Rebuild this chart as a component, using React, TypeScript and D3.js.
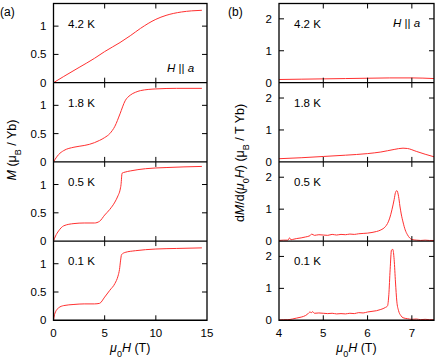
import * as d3 from "d3"

// ---- data ----
const temps = ["4.2 K", "1.8 K", "0.5 K", "0.1 K"]

// magnetization M (μB/Yb) vs μ0H (T)
const mH42 = [0, 1, 2.5, 4, 5, 6.5, 7.5, 8.5, 10, 11, 12.5, 13.5, 14.5]
const mM42 = [0, 0.11, 0.27, 0.43, 0.55, 0.71, 0.83, 0.96, 1.12, 1.19, 1.25, 1.27, 1.28]
const mH18 = [0, 0.5, 1, 2, 3, 3.5, 4.5, 5, 5.5, 6, 6.5, 7, 7.5, 8, 8.5, 10, 12, 14.5]
const mM18 = [0, 0.13, 0.2, 0.26, 0.29, 0.31, 0.38, 0.43, 0.5, 0.63, 0.85, 1.08, 1.18, 1.23, 1.26, 1.29, 1.3, 1.3]
const mH05 = [0, 0.2, 0.5, 1, 2, 3, 4, 4.5, 5, 5.5, 6, 6.3, 6.5, 6.6, 6.7, 7, 7.5, 9, 11, 14.5]
const mM05 = [0, 0.09, 0.18, 0.27, 0.31, 0.32, 0.32, 0.35, 0.46, 0.56, 0.69, 0.8, 0.9, 1.0, 1.2, 1.22, 1.24, 1.28, 1.3, 1.32]
const mH01 = [0, 0.1, 0.2, 0.5, 1, 2, 3, 4, 4.5, 5, 5.5, 6, 6.3, 6.45, 6.55, 6.65, 7, 8, 10, 12, 14.5]
const mM01 = [0, 0.1, 0.15, 0.22, 0.26, 0.28, 0.29, 0.29, 0.3, 0.41, 0.53, 0.65, 0.78, 0.9, 1.05, 1.16, 1.2, 1.23, 1.26, 1.27, 1.28]

// dM/d(μ0H) (μB/T Yb) vs μ0H (T)
const dH42 = [4, 4.5, 5, 5.5, 6, 6.5, 7, 7.5]
const dD42 = [0.1, 0.11, 0.12, 0.13, 0.14, 0.15, 0.15, 0.13]
const dH18 = [4, 4.5, 5, 5.5, 6, 6.3, 6.6, 6.8, 6.9, 7.1, 7.3, 7.5]
const dD18 = [0.1, 0.13, 0.17, 0.21, 0.26, 0.31, 0.39, 0.43, 0.42, 0.33, 0.24, 0.16]
const dH05 = [4, 4.1, 4.2, 4.24, 4.27, 4.3, 4.4, 4.5, 4.6, 4.7, 4.74, 4.8, 4.9, 5, 5.1, 5.2, 5.3, 5.4, 5.5, 5.6, 5.7, 5.8, 5.9, 6, 6.1, 6.2, 6.3, 6.4, 6.45, 6.5, 6.55, 6.6, 6.63, 6.66, 6.7, 6.73, 6.76, 6.8, 6.85, 6.9, 6.95, 7, 7.1, 7.2, 7.3, 7.4, 7.5]
const dD05 = [0.02, 0.03, 0.03, 0.1, 0.04, 0.05, 0.08, 0.1, 0.13, 0.17, 0.22, 0.18, 0.2, 0.19, 0.18, 0.21, 0.19, 0.21, 0.2, 0.22, 0.21, 0.23, 0.24, 0.25, 0.27, 0.3, 0.35, 0.45, 0.55, 0.72, 0.98, 1.3, 1.52, 1.58, 1.4, 1.1, 0.85, 0.6, 0.35, 0.2, 0.1, 0.05, 0.03, 0.02, 0.03, 0.02, 0.02]
const dH01 = [4, 4.1, 4.2, 4.3, 4.4, 4.5, 4.6, 4.65, 4.7, 4.73, 4.76, 4.8, 4.9, 5, 5.1, 5.2, 5.3, 5.4, 5.5, 5.6, 5.7, 5.8, 5.9, 6, 6.1, 6.2, 6.3, 6.4, 6.45, 6.48, 6.51, 6.54, 6.57, 6.6, 6.63, 6.66, 6.7, 6.75, 6.8, 6.9, 7, 7.1, 7.2, 7.3, 7.4, 7.5]
const dD01 = [0.01, 0.02, 0.02, 0.04, 0.07, 0.1, 0.15, 0.2, 0.26, 0.24, 0.27, 0.22, 0.23, 0.22, 0.21, 0.22, 0.2, 0.21, 0.2, 0.22, 0.21, 0.24, 0.23, 0.26, 0.28, 0.3, 0.34, 0.4, 0.45, 0.8, 1.6, 2.2, 2.22, 1.9, 1.2, 0.6, 0.3, 0.15, 0.08, 0.05, 0.03, 0.04, 0.02, 0.03, 0.02, 0.02]

const mSeries = [[mH42, mM42], [mH18, mM18], [mH05, mM05], [mH01, mM01]]
const dSeries = [[dH42, dD42], [dH18, dD18], [dH05, dD05], [dH01, dD01]]

const mYTicks = [0, 0.5, 1]
const mXTicks = [0, 5, 10, 15]
const dYTicks = [0, 1, 2]
const dXTicks = [4, 5, 6, 7]

// ---- layout ----
const W = 443
const H = 360
const top = 3.5
const panelH = 79.2
const font = "'Liberation Sans', Arial, sans-serif"
const red = "#ff3030"
const tick = 5

const xM = d3.scaleLinear().domain([0, 15]).range([53.5, 207])
const xD = d3.scaleLinear().domain([4, 7.5]).range([279, 434])

function Column({ x, yMax, yTicks, xTicks, series, labelX, tickFmt }: any) {
  const [x0, x1] = x.range()
  const bottom = top + panelH * 4
  return (
    <g>
      {series.map(([hs, vs]: number[][], i: number) => {
        const pTop = top + panelH * i
        const y = d3.scaleLinear().domain([0, yMax]).range([pTop + panelH, pTop])
        const pts: [number, number][] = hs.map((h, k) => [h, vs[k]])
        const line = d3
          .line<[number, number]>()
          .x((d) => x(d[0]))
          .y((d) => y(d[1]))
          .curve(d3.curveMonotoneX)
        return (
          <g key={i}>
            <path d={line(pts) || ""} fill="none" stroke={red} strokeWidth={1} />
            {yTicks.map((t: number) => (
              <g key={t}>
                {t > 0 && (
                  <>
                    <line x1={x0} x2={x0 + tick} y1={y(t)} y2={y(t)} stroke="#000" />
                    <line x1={x1} x2={x1 - tick} y1={y(t)} y2={y(t)} stroke="#000" />
                  </>
                )}
                <text x={x0 - 7} y={y(t) + 4} textAnchor="end" fontSize={11.5}>
                  {tickFmt(t)}
                </text>
              </g>
            ))}
            {xTicks
              .filter((t: number) => t > x.domain()[0] && t < x.domain()[1])
              .map((t: number) => (
                <g key={t}>
                  <line x1={x(t)} x2={x(t)} y1={pTop} y2={pTop + tick} stroke="#000" />
                  <line x1={x(t)} x2={x(t)} y1={pTop + panelH} y2={pTop + panelH - tick} stroke="#000" />
                </g>
              ))}
            <text x={labelX} y={pTop + 24} fontSize={11.5}>
              {temps[i]}
            </text>
            <line x1={x0} x2={x1} y1={pTop + panelH} y2={pTop + panelH} stroke="#000" strokeWidth={1.3} />
          </g>
        )
      })}
      <rect x={x0} y={top} width={x1 - x0} height={bottom - top} fill="none" stroke="#000" strokeWidth={1.3} />
      {xTicks.map((t: number) => (
        <text key={t} x={x(t)} y={bottom + 17} textAnchor="middle" fontSize={11.5}>
          {t}
        </text>
      ))}
      <text x={(x0 + x1) / 2} y={352} textAnchor="middle" fontSize={12.5}>
        <tspan fontStyle="italic">μ</tspan>
        <tspan baselineShift="sub" fontSize={9}>0</tspan>
        <tspan fontStyle="italic">H</tspan>
        <tspan> (T)</tspan>
      </text>
    </g>
  )
}

export default function App() {
  return (
    <svg
      width={W}
      height={H}
      style={{ position: "absolute", left: 0, top: 0, background: "#fff" }}
      fontFamily={font}
    >
      <Column
        x={xM}
        yMax={1.4}
        yTicks={mYTicks}
        xTicks={mXTicks}
        series={mSeries}
        labelX={68}
        tickFmt={(t: number) => String(t)}
      />
      <Column
        x={xD}
        yMax={2.48}
        yTicks={dYTicks}
        xTicks={dXTicks}
        series={dSeries}
        labelX={294}
        tickFmt={(t: number) => String(t)}
      />
      <text x={0} y={16} fontSize={12}>(a)</text>
      <text x={228} y={16} fontSize={12}>(b)</text>
      <text x={167} y={72} fontSize={11.5}>
        <tspan fontStyle="italic">H</tspan> || <tspan fontStyle="italic">a</tspan>
      </text>
      <text x={393} y={27} fontSize={11.5}>
        <tspan fontStyle="italic">H</tspan> || <tspan fontStyle="italic">a</tspan>
      </text>
      <text transform="translate(16,150) rotate(-90)" textAnchor="middle" fontSize={12.5}>
        <tspan fontStyle="italic">M</tspan>
        <tspan> (μ</tspan>
        <tspan baselineShift="sub" fontSize={9}>B</tspan>
        <tspan> / Yb)</tspan>
      </text>
      <text transform="translate(244,163) rotate(-90)" textAnchor="middle" fontSize={12.5}>
        <tspan>d</tspan>
        <tspan fontStyle="italic">M</tspan>
        <tspan>/d(</tspan>
        <tspan fontStyle="italic">μ</tspan>
        <tspan baselineShift="sub" fontSize={9}>0</tspan>
        <tspan fontStyle="italic">H</tspan>
        <tspan>) (μ</tspan>
        <tspan baselineShift="sub" fontSize={9}>B</tspan>
        <tspan> / T Yb)</tspan>
      </text>
    </svg>
  )
}
